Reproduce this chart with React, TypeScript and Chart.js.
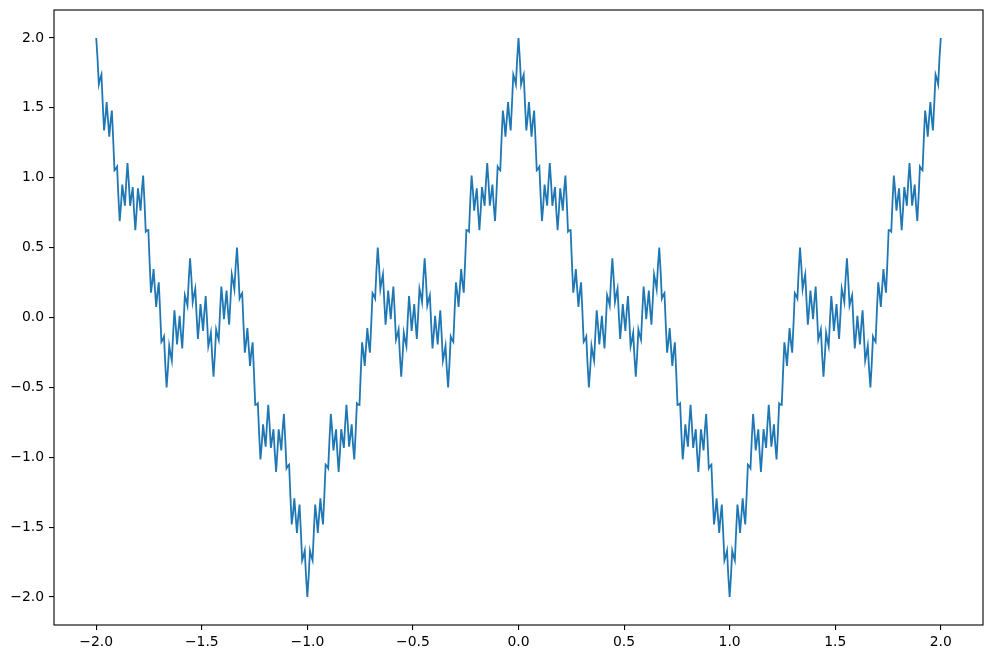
import React, { useEffect, useRef } from "react";
import { Chart, registerables } from "chart.js";

Chart.register(...registerables);

// Sample grid: x = X_START + i * X_STEP
const X_START = -2;
const X_STEP = 1 / 162;

// y values for x in [-2, -1)
const Y_SEG_1 = [
  2, 1.853, 1.668, 1.707, 1.738, 1.527, 1.338, 1.427, 1.541, 1.418, 1.293, 1.401, 1.481, 1.279, 1.053, 1.063, 1.079, 0.867, 0.69, 0.803,
  0.951, 0.873, 0.8, 0.965, 1.105, 0.965, 0.799, 0.866, 0.933, 0.766, 0.624, 0.762, 0.924, 0.848, 0.765, 0.908, 1.016, 0.833, 0.614, 0.623,
  0.625, 0.389, 0.178, 0.249, 0.346, 0.21, 0.075, 0.176, 0.252, 0.05, -0.175, -0.159, -0.136, -0.337, -0.5, -0.37, -0.203, -0.26, -0.309, -0.118,
  0.051, -0.058, -0.193, -0.091, 0.012, -0.118, -0.221, -0.043, 0.16, 0.126, 0.086, 0.272, 0.424, 0.284, 0.11, 0.162, 0.207, 0.015, -0.154, -0.042,
  0.096, 0,
  -0.096, 0.042, 0.154, -0.015, -0.207, -0.162, -0.11, -0.284, -0.424, -0.272, -0.086, -0.126, -0.16, 0.043, 0.221, 0.118, -0.012, 0.091, 0.193, 0.058,
  -0.051, 0.118, 0.309, 0.26, 0.203, 0.37, 0.5, 0.337, 0.136, 0.159, 0.175, -0.05, -0.252, -0.176, -0.075, -0.21, -0.346, -0.249, -0.178, -0.389,
  -0.625, -0.623, -0.614, -0.833, -1.016, -0.908, -0.765, -0.848, -0.924, -0.762, -0.624, -0.766, -0.933, -0.866, -0.799, -0.965, -1.105, -0.965, -0.8, -0.873,
  -0.951, -0.803, -0.69, -0.867, -1.079, -1.063, -1.053, -1.279, -1.481, -1.401, -1.293, -1.418, -1.541, -1.427, -1.338, -1.527, -1.738, -1.707, -1.668, -1.853,
];

// y values for x in [-1, 0]
const Y_SEG_2 = [
  -2, -1.853, -1.668, -1.707, -1.738, -1.527, -1.338, -1.427, -1.541, -1.418, -1.293, -1.401, -1.481, -1.279, -1.053, -1.063, -1.079, -0.867, -0.69, -0.803,
  -0.951, -0.873, -0.8, -0.965, -1.105, -0.965, -0.799, -0.866, -0.933, -0.766, -0.624, -0.762, -0.924, -0.848, -0.765, -0.908, -1.016, -0.833, -0.614, -0.623,
  -0.625, -0.389, -0.178, -0.249, -0.346, -0.21, -0.075, -0.176, -0.252, -0.05, 0.175, 0.159, 0.136, 0.337, 0.5, 0.37, 0.203, 0.26, 0.309, 0.118,
  -0.051, 0.058, 0.193, 0.091, -0.012, 0.118, 0.221, 0.043, -0.16, -0.126, -0.086, -0.272, -0.424, -0.284, -0.11, -0.162, -0.207, -0.015, 0.154, 0.042,
  -0.096, 0,
  0.096, -0.042, -0.154, 0.015, 0.207, 0.162, 0.11, 0.284, 0.424, 0.272, 0.086, 0.126, 0.16, -0.043, -0.221, -0.118, 0.012, -0.091, -0.193, -0.058,
  0.051, -0.118, -0.309, -0.26, -0.203, -0.37, -0.5, -0.337, -0.136, -0.159, -0.175, 0.05, 0.252, 0.176, 0.075, 0.21, 0.346, 0.249, 0.178, 0.389,
  0.625, 0.623, 0.614, 0.833, 1.016, 0.908, 0.765, 0.848, 0.924, 0.762, 0.624, 0.766, 0.933, 0.866, 0.799, 0.965, 1.105, 0.965, 0.8, 0.873,
  0.951, 0.803, 0.69, 0.867, 1.079, 1.063, 1.053, 1.279, 1.481, 1.401, 1.293, 1.418, 1.541, 1.427, 1.338, 1.527, 1.738, 1.707, 1.668, 1.853, 2,
];

// y values for x in (0, 1]
const Y_SEG_3 = [
  1.853, 1.668, 1.707, 1.738, 1.527, 1.338, 1.427, 1.541, 1.418, 1.293, 1.401, 1.481, 1.279, 1.053, 1.063, 1.079, 0.867, 0.69, 0.803,
  0.951, 0.873, 0.8, 0.965, 1.105, 0.965, 0.799, 0.866, 0.933, 0.766, 0.624, 0.762, 0.924, 0.848, 0.765, 0.908, 1.016, 0.833, 0.614, 0.623,
  0.625, 0.389, 0.178, 0.249, 0.346, 0.21, 0.075, 0.176, 0.252, 0.05, -0.175, -0.159, -0.136, -0.337, -0.5, -0.37, -0.203, -0.26, -0.309, -0.118,
  0.051, -0.058, -0.193, -0.091, 0.012, -0.118, -0.221, -0.043, 0.16, 0.126, 0.086, 0.272, 0.424, 0.284, 0.11, 0.162, 0.207, 0.015, -0.154, -0.042,
  0.096, 0,
  -0.096, 0.042, 0.154, -0.015, -0.207, -0.162, -0.11, -0.284, -0.424, -0.272, -0.086, -0.126, -0.16, 0.043, 0.221, 0.118, -0.012, 0.091, 0.193, 0.058,
  -0.051, 0.118, 0.309, 0.26, 0.203, 0.37, 0.5, 0.337, 0.136, 0.159, 0.175, -0.05, -0.252, -0.176, -0.075, -0.21, -0.346, -0.249, -0.178, -0.389,
  -0.625, -0.623, -0.614, -0.833, -1.016, -0.908, -0.765, -0.848, -0.924, -0.762, -0.624, -0.766, -0.933, -0.866, -0.799, -0.965, -1.105, -0.965, -0.8, -0.873,
  -0.951, -0.803, -0.69, -0.867, -1.079, -1.063, -1.053, -1.279, -1.481, -1.401, -1.293, -1.418, -1.541, -1.427, -1.338, -1.527, -1.738, -1.707, -1.668, -1.853, -2,
];

// y values for x in (1, 2]
const Y_SEG_4 = [
  -1.853, -1.668, -1.707, -1.738, -1.527, -1.338, -1.427, -1.541, -1.418, -1.293, -1.401, -1.481, -1.279, -1.053, -1.063, -1.079, -0.867, -0.69, -0.803,
  -0.951, -0.873, -0.8, -0.965, -1.105, -0.965, -0.799, -0.866, -0.933, -0.766, -0.624, -0.762, -0.924, -0.848, -0.765, -0.908, -1.016, -0.833, -0.614, -0.623,
  -0.625, -0.389, -0.178, -0.249, -0.346, -0.21, -0.075, -0.176, -0.252, -0.05, 0.175, 0.159, 0.136, 0.337, 0.5, 0.37, 0.203, 0.26, 0.309, 0.118,
  -0.051, 0.058, 0.193, 0.091, -0.012, 0.118, 0.221, 0.043, -0.16, -0.126, -0.086, -0.272, -0.424, -0.284, -0.11, -0.162, -0.207, -0.015, 0.154, 0.042,
  -0.096, 0,
  0.096, -0.042, -0.154, 0.015, 0.207, 0.162, 0.11, 0.284, 0.424, 0.272, 0.086, 0.126, 0.16, -0.043, -0.221, -0.118, 0.012, -0.091, -0.193, -0.058,
  0.051, -0.118, -0.309, -0.26, -0.203, -0.37, -0.5, -0.337, -0.136, -0.159, -0.175, 0.05, 0.252, 0.176, 0.075, 0.21, 0.346, 0.249, 0.178, 0.389,
  0.625, 0.623, 0.614, 0.833, 1.016, 0.908, 0.765, 0.848, 0.924, 0.762, 0.624, 0.766, 0.933, 0.866, 0.799, 0.965, 1.105, 0.965, 0.8, 0.873,
  0.951, 0.803, 0.69, 0.867, 1.079, 1.063, 1.053, 1.279, 1.481, 1.401, 1.293, 1.418, 1.541, 1.427, 1.338, 1.527, 1.738, 1.707, 1.668, 1.853, 2,
];

const X_TICKS = [-2, -1.5, -1, -0.5, 0, 0.5, 1, 1.5, 2];
const Y_TICKS = [-2, -1.5, -1, -0.5, 0, 0.5, 1, 1.5, 2];

const X_MIN = -2.2;
const X_MAX = 2.2;
const Y_MIN = -2.2;
const Y_MAX = 2.2;

const LINE_COLOR = "#1f77b4";
const FONT = { family: "'DejaVu Sans', sans-serif", size: 13.9 };

const fmt = (v: number | string) => Number(v).toFixed(1).replace("-", "\u2212");

const framePlugin = {
  id: "frame",
  afterDraw(chart: any) {
    const { ctx, chartArea } = chart;
    ctx.save();
    ctx.strokeStyle = "#000";
    ctx.lineWidth = 1.1;
    ctx.strokeRect(chartArea.left, chartArea.top, chartArea.right - chartArea.left, chartArea.bottom - chartArea.top);
    ctx.restore();
  },
};

export default function App() {
  const ref = useRef<HTMLCanvasElement | null>(null);

  useEffect(() => {
    if (!ref.current) return;
    const ys = [...Y_SEG_1, ...Y_SEG_2, ...Y_SEG_3, ...Y_SEG_4];
    const points = ys.map((y, i) => ({ x: X_START + i * X_STEP, y }));

    const chart = new Chart(ref.current, {
      type: "line",
      data: {
        datasets: [
          {
            data: points,
            borderColor: LINE_COLOR,
            borderWidth: 1.8,
            pointRadius: 0,
            tension: 0,
            fill: false,
          },
        ],
      },
      options: {
        responsive: false,
        animation: false,
        devicePixelRatio: 1,
        parsing: false,
        layout: { padding: { top: 10, right: 10, left: 0, bottom: 0 } },
        plugins: { legend: { display: false }, tooltip: { enabled: false } },
        scales: {
          x: {
            type: "linear",
            min: X_MIN,
            max: X_MAX,
            afterBuildTicks: (scale: any) => {
              scale.ticks = X_TICKS.map((v) => ({ value: v }));
            },
            afterFit: (scale: any) => {
              scale.height = 34;
              scale.paddingLeft = 0;
              scale.paddingRight = 0;
            },
            border: { display: false },
            grid: { display: true, drawOnChartArea: false, drawTicks: true, tickLength: 5, color: "#000", lineWidth: 1.1 },
            ticks: { font: FONT, color: "#000", padding: 4, maxRotation: 0, autoSkip: false, callback: (v: any) => fmt(v) },
          },
          y: {
            type: "linear",
            min: Y_MIN,
            max: Y_MAX,
            afterBuildTicks: (scale: any) => {
              scale.ticks = Y_TICKS.map((v) => ({ value: v }));
            },
            afterFit: (scale: any) => {
              scale.width = 54;
              scale.paddingTop = 0;
              scale.paddingBottom = 0;
            },
            border: { display: false },
            grid: { display: true, drawOnChartArea: false, drawTicks: true, tickLength: 5, color: "#000", lineWidth: 1.1 },
            ticks: { font: FONT, color: "#000", padding: 5, autoSkip: false, callback: (v: any) => fmt(v) },
          },
        },
      },
      plugins: [framePlugin],
    });
    return () => chart.destroy();
  }, []);

  return (
    <div style={{ position: "fixed", left: 0, top: 0, width: 993, height: 659, background: "#fff" }}>
      <canvas ref={ref} width={993} height={659} style={{ display: "block" }} />
    </div>
  );
}
